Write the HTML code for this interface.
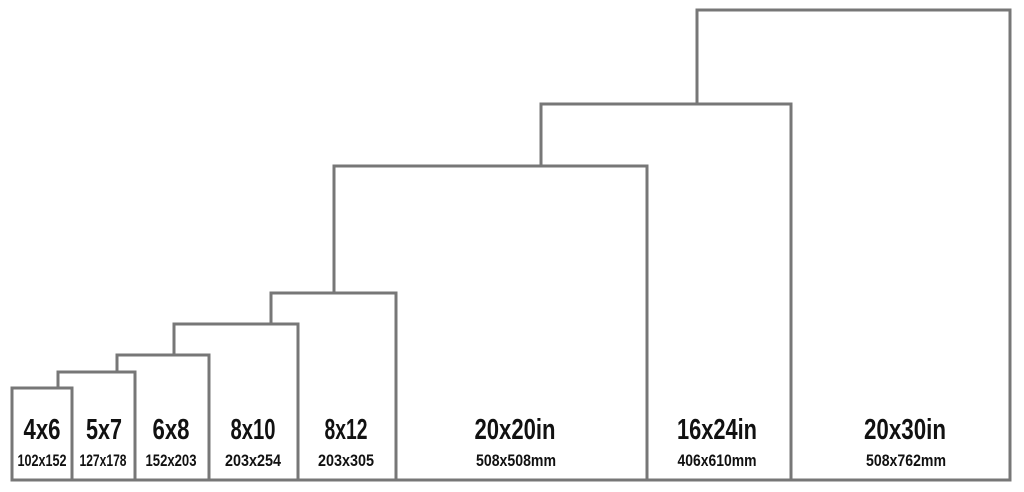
<!DOCTYPE html>
<html><head><style>html,body{margin:0;padding:0;background:#fff}svg{display:block}</style></head><body>
<svg width="1024" height="492" viewBox="0 0 1024 492" xmlns="http://www.w3.org/2000/svg">
<g fill="#fff" stroke="#777" stroke-width="3">
<rect x="697" y="10" width="313" height="470"/>
<rect x="541" y="104" width="250" height="376"/>
<rect x="334" y="166" width="313" height="314"/>
<rect x="271" y="293" width="125" height="187"/>
<rect x="174" y="324" width="124" height="156"/>
<rect x="117" y="355" width="92" height="125"/>
<rect x="58" y="372" width="77" height="108"/>
<rect x="12" y="388" width="60" height="92"/>
</g>
<g font-family="'Liberation Sans Narrow','Liberation Sans',sans-serif" font-weight="bold" fill="#111" text-anchor="middle">
<g font-size="29">
<text x="42" y="439" textLength="37" lengthAdjust="spacingAndGlyphs">4x6</text>
<text x="104" y="439" textLength="36" lengthAdjust="spacingAndGlyphs">5x7</text>
<text x="171" y="439" textLength="37" lengthAdjust="spacingAndGlyphs">6x8</text>
<text x="253" y="439" textLength="45" lengthAdjust="spacingAndGlyphs">8x10</text>
<text x="346" y="439" textLength="43" lengthAdjust="spacingAndGlyphs">8x12</text>
<text x="515" y="439" textLength="81" lengthAdjust="spacingAndGlyphs">20x20in</text>
<text x="717" y="439" textLength="80" lengthAdjust="spacingAndGlyphs">16x24in</text>
<text x="905" y="439" textLength="82" lengthAdjust="spacingAndGlyphs">20x30in</text>
</g>
<g font-size="17">
<text x="42" y="466" textLength="49" lengthAdjust="spacingAndGlyphs">102x152</text>
<text x="103" y="466" textLength="47" lengthAdjust="spacingAndGlyphs">127x178</text>
<text x="171" y="466" textLength="51" lengthAdjust="spacingAndGlyphs">152x203</text>
<text x="253" y="466" textLength="56" lengthAdjust="spacingAndGlyphs">203x254</text>
<text x="346" y="466" textLength="56" lengthAdjust="spacingAndGlyphs">203x305</text>
<text x="516" y="466" textLength="80" lengthAdjust="spacingAndGlyphs">508x508mm</text>
<text x="717" y="466" textLength="79" lengthAdjust="spacingAndGlyphs">406x610mm</text>
<text x="906" y="466" textLength="80" lengthAdjust="spacingAndGlyphs">508x762mm</text>
</g>
</g>
</svg>
</body></html>
